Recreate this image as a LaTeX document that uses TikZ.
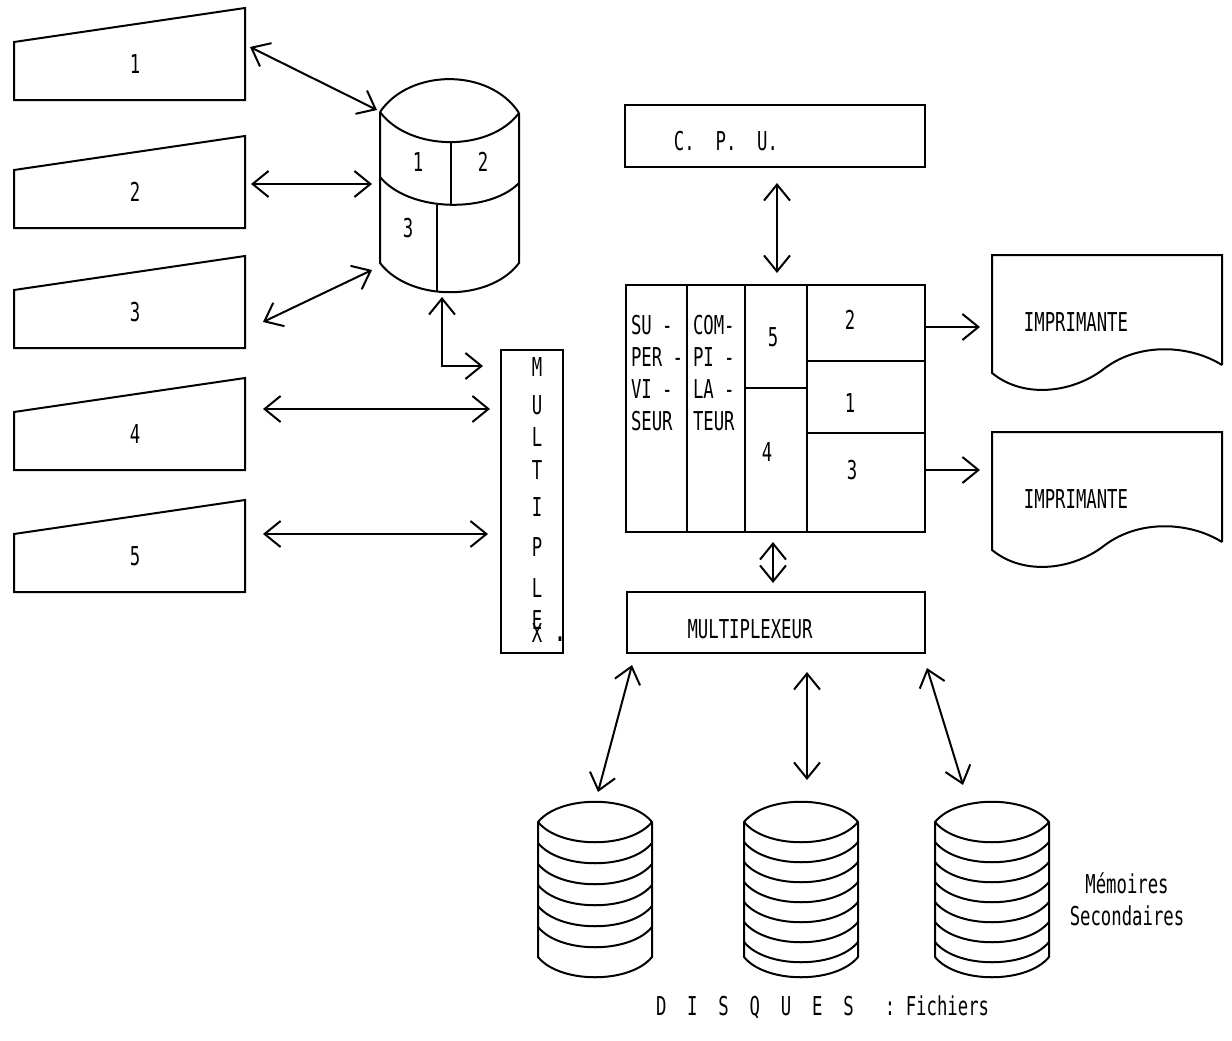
\documentclass[tikz,border=0pt]{standalone}
\usepackage{fontspec}
\newfontfamily\plotfont[FakeStretch=0.665]{DejaVu Sans Mono}
\usetikzlibrary{arrows.meta}

\begin{document}
\begin{tikzpicture}[x=1pt, y=-1pt, line width=2pt,
    >={Straight Barb[length=16pt, width=26pt]},
    every node/.style={font=\plotfont\fontsize{26pt}{32pt}\selectfont, inner sep=0pt},
    link/.style={<->},
    feed/.style={->}]
    \useasboundingbox (0,0) rectangle (1232,1041);

    % Terminals (left)
    \foreach \i/\b in {1/100, 2/228, 3/348, 4/470, 5/592} {
        \draw (14,\b-58) -- (245,\b-92) -- (245,\b) -- (14,\b) -- cycle;
        \node (term\i) at (135,\b-36) {\i};
    }

    % Drum (tambour)
    \draw (380,112) .. controls (410,68) and (490,68) .. (519,113);
    \draw (380,112) .. controls (410,152) and (490,152) .. (519,113);
    \draw (380,177) .. controls (410,213) and (490,213) .. (519,183);
    \draw (380,112) -- (380,263) .. controls (410,302) and (490,302) .. (519,263) -- (519,113);
    \draw (451,142) -- (451,205);
    \draw (437,205) -- (437,291);
    \node (drum1) at (418,162) {1};
    \node (drum2) at (483,162) {2};
    \node (drum3) at (408,228) {3};

    % Line multiplexer
    \draw (501,350) rectangle (563,653);
    \foreach \c/\y [count=\k] in {M/367, U/405, L/437, T/470, I/507, P/547, L/588, E/620, X/633}
        \node (mpx\k) at (537,\y) {\c};
    \node[anchor=base] (mpxdot) at (560,641) {\textbf{.}};

    % Terminal links
    \coordinate (t1) at (250,47);   \coordinate (d1) at (377,110);
    \coordinate (t2) at (251,184);  \coordinate (d2) at (372,184);
    \coordinate (t3) at (263,322);  \coordinate (d3) at (372,270);
    \coordinate (t4) at (263,409);  \coordinate (m4) at (490,409);
    \coordinate (t5) at (263,534);  \coordinate (m5) at (488,534);
    \foreach \a/\b in {t1/d1, t2/d2, t3/d3, t4/m4, t5/m5}
        \draw[link] (\a) -- (\b);
    \coordinate (drumS) at (442,297);
    \coordinate (mpxW) at (483,366);
    \draw[link] (drumS) |- (mpxW);

    % C. P. U.
    \draw (625,105) rectangle (925,167);
    \node (cpu) at (726,141) {C.~~P.~~U.};
    \coordinate (cpuS) at (777,183);
    \coordinate (memN) at (777,273);
    \draw[link] (cpuS) -- (memN);

    % Central memory
    \draw (626,285) rectangle (925,532);
    \draw (687,285) -- (687,532) (745,285) -- (745,532) (807,285) -- (807,532);
    \draw (745,388) -- (807,388);
    \draw (807,361) -- (925,361) (807,433) -- (925,433);
    \node[anchor=north west, align=left] (superv) at (630,314) {SU -\\PER -\\VI -\\SEUR};
    \node[anchor=north west, align=left] (compil) at (692,314) {COM-\\PI -\\LA -\\TEUR};
    \node (part5) at (773,337) {5};
    \node (part4) at (767,452) {4};
    \node (part2) at (850,320) {2};
    \node (part1) at (850,403) {1};
    \node (part3) at (852,470) {3};

    % Printers
    \foreach \t/\n in {255/1, 432/2} {
        \draw (1222,\t+110) -- (1222,\t) -- (992,\t) -- (992,\t+118)
            .. controls (1025,\t+145) and (1075,\t+137) .. (1105,\t+113)
            .. controls (1140,\t+87) and (1190,\t+90) .. (1222,\t+110);
        \node (prn\n) at (1076,\t+67) {IMPRIMANTE};
    }
    \coordinate (memE1) at (925,327);  \coordinate (prnW1) at (980,327);
    \coordinate (memE2) at (925,470);  \coordinate (prnW2) at (980,470);
    \draw[feed] (memE1) -- (prnW1);
    \draw[feed] (memE2) -- (prnW2);

    % Disk multiplexer
    \draw (627,592) rectangle (925,653);
    \node (mux) at (750,629) {MULTIPLEXEUR};
    \coordinate (memS) at (773,542);
    \coordinate (muxN) at (773,583);
    \draw[link] (memS) -- (muxN);

    % Disks
    \foreach \cx/\n/\s in {595/5/21, 801/6/20, 992/6/20} {
        \draw (\cx-57,822) .. controls (\cx-35,795) and (\cx+35,795) .. (\cx+57,822)
            -- (\cx+57,957) .. controls (\cx+35,984) and (\cx-35,984) .. (\cx-57,957) -- cycle;
        \foreach \k in {0,...,\n}
            \draw (\cx-57,822+\k*\s) .. controls (\cx-35,849+\k*\s) and (\cx+35,849+\k*\s) .. (\cx+57,822+\k*\s);
    }
    \coordinate (muxA) at (632,665);  \coordinate (disk1) at (598,792);
    \coordinate (muxB) at (807,672);  \coordinate (disk2) at (807,780);
    \coordinate (muxC) at (927,668);  \coordinate (disk3) at (963,785);
    \foreach \a/\b in {muxA/disk1, muxB/disk2, muxC/disk3}
        \draw[link] (\a) -- (\b);

    \node[align=center] (memsec) at (1127,899) {Mémoires\\Secondaires};
    \node[anchor=west] (disques) at (655,1007) {D~~I~~S~~Q~~U~~E~~S~~~:~Fichiers};
\end{tikzpicture}
\end{document}
